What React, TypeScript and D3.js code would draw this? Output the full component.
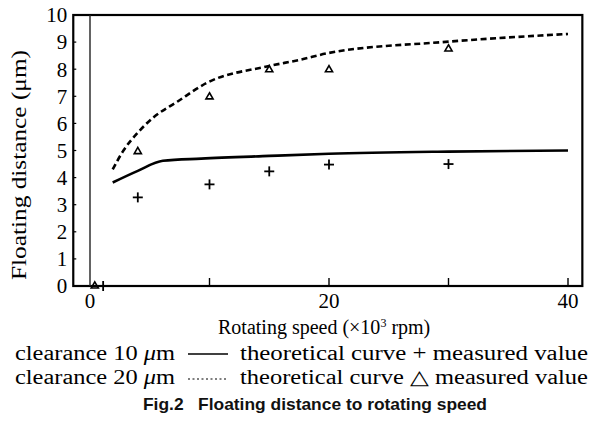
import * as d3 from "d3";

const W = 594;
const H = 433;

// theoretical curves
const speed10 = [1.9, 4, 6.1, 9.3, 15, 20, 30, 40];
const theory10 = [3.82, 4.25, 4.62, 4.7, 4.8, 4.88, 4.96, 5.0];
const speed20 = [1.9, 2.8, 4, 5.25, 7.3, 9.8, 14.8, 17.6, 20, 29.5, 40];
const theory20 = [4.3, 5.0, 5.66, 6.2, 6.8, 7.5, 8.1, 8.35, 8.6, 9.0, 9.3];

// measured values
const measSpeed10 = [1.1, 4, 10, 15, 20, 30];
const meas10 = [0, 3.27, 3.75, 4.23, 4.48, 4.5];
const measSpeed20 = [0.4, 4, 10, 15, 20, 30];
const meas20 = [0, 4.96, 6.98, 7.98, 7.98, 8.75];

const yTicks = [0, 1, 2, 3, 4, 5, 6, 7, 8, 9, 10];
const xTicks = [0, 20, 40];
const xMinor = [10, 20, 30, 40];

const serif = '"Liberation Serif", "Times New Roman", Times, "DejaVu Serif", serif';
const sans = '"Liberation Sans", Arial, Helvetica, sans-serif';

export default function App() {
  const x = d3.scaleLinear().domain([0, 40]).range([90, 568]);
  const y = d3.scaleLinear().domain([0, 10]).range([286, 15]);
  const left = x(-1.4);
  const right = x(41.2);

  const line = d3
    .line<[number, number]>()
    .x((d) => x(d[0]))
    .y((d) => y(d[1]))
    .curve(d3.curveMonotoneX);

  const path10 = line(speed10.map((s, i) => [s, theory10[i]]));
  const path20 = line(speed20.map((s, i) => [s, theory20[i]]));

  const tri = d3.symbol(d3.symbolTriangle, 22)()!;
  const serifStyle = { fontFamily: serif };

  return (
    <svg width={W} height={H} style={{ display: "block", position: "absolute", left: 0, top: 0 }}>
      <rect width={W} height={H} fill="#fff" />
      {/* frame */}
      <rect x={left} y={y(10)} width={right - left} height={y(0) - y(10)} fill="none" stroke="#000" strokeWidth={2.2} />
      {/* zero line */}
      <line x1={x(0)} x2={x(0)} y1={y(10)} y2={y(0)} stroke="#222" strokeWidth={1.4} />
      {/* y ticks */}
      {yTicks.map((t) => (
        <g key={t}>
          <line x1={left} x2={left + 3} y1={y(t)} y2={y(t)} stroke="#000" strokeWidth={1.2} />
          <text x={left - 6} y={y(t)} dy="0.35em" textAnchor="end" style={serifStyle} fontSize={21}>
            {t}
          </text>
        </g>
      ))}
      {/* x ticks */}
      {xMinor.map((t) => (
        <line key={t} x1={x(t)} x2={x(t)} y1={y(0)} y2={y(0) - 8} stroke="#000" strokeWidth={1.4} />
      ))}
      {xTicks.map((t) => (
        <text key={t} x={x(t)} y={y(0) + 22} textAnchor="middle" style={serifStyle} fontSize={21}>
          {t}
        </text>
      ))}
      {/* curves */}
      <path d={path20 ?? ""} fill="none" stroke="#000" strokeWidth={2.6} strokeDasharray="6 3.5" />
      <path d={path10 ?? ""} fill="none" stroke="#000" strokeWidth={2.6} />
      {/* measured */}
      {measSpeed10.map((s, i) => (
        <g key={"p" + i} transform={`translate(${x(s)},${y(meas10[i])})`} stroke="#000" strokeWidth={1.8}>
          <line x1={-5} x2={5} y1={0} y2={0} />
          <line x1={0} x2={0} y1={-5} y2={5} />
        </g>
      ))}
      {measSpeed20.map((s, i) => (
        <path key={"t" + i} d={tri} transform={`translate(${x(s)},${y(meas20[i])})`} fill="none" stroke="#000" strokeWidth={1.6} />
      ))}
      {/* axis titles */}
      <text
        transform={`translate(26,165) rotate(-90)`}
        textAnchor="middle"
        style={serifStyle}
        fontSize={20}
        textLength={230}
        lengthAdjust="spacingAndGlyphs"
      >
        Floating distance (μm)
      </text>
      <text x={218} y={334} style={serifStyle} fontSize={20}>
        Rotating speed (×10<tspan dy={-7} fontSize={12}>3</tspan>
        <tspan dy={7}> rpm)</tspan>
      </text>
      {/* legend */}
      <text x={15} y={360} style={serifStyle} fontSize={20} textLength={160} lengthAdjust="spacingAndGlyphs">
        clearance 10 <tspan fontStyle="italic">μ</tspan>m
      </text>
      <line x1={188} x2={228} y1={354} y2={354} stroke="#000" strokeWidth={1.4} />
      <text x={240} y={360} style={serifStyle} fontSize={20} textLength={348} lengthAdjust="spacingAndGlyphs">
        theoretical curve + measured value
      </text>
      <text x={15} y={384} style={serifStyle} fontSize={20} textLength={160} lengthAdjust="spacingAndGlyphs">
        clearance 20 <tspan fontStyle="italic">μ</tspan>m
      </text>
      <line x1={188} x2={228} y1={379} y2={379} stroke="#000" strokeWidth={1.2} strokeDasharray="2 2.5" />
      <text x={240} y={384} style={serifStyle} fontSize={20} textLength={348} lengthAdjust="spacingAndGlyphs">
        theoretical curve △ measured value
      </text>
      {/* caption */}
      <text
        x={143}
        y={410}
        style={{ fontFamily: sans }}
        fontSize={17}
        fontWeight="bold"
        fill="#111"
        textLength={344}
        lengthAdjust="spacingAndGlyphs"
      >
        Fig.2{"\u00a0\u00a0\u00a0"}Floating distance to rotating speed
      </text>
    </svg>
  );
}
